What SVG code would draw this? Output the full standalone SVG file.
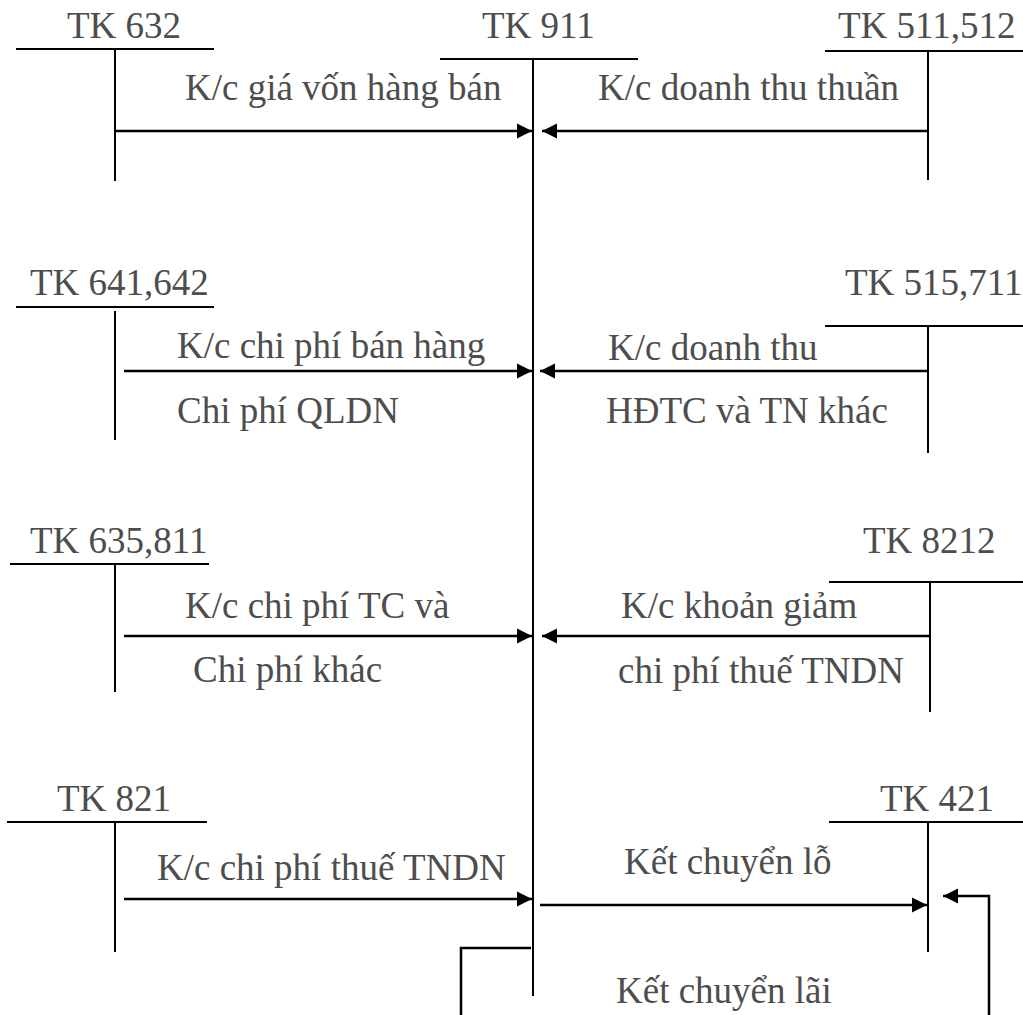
<svg xmlns="http://www.w3.org/2000/svg" width="1023" height="1015" viewBox="0 0 1023 1015">
  <style>
    .lbl { font-family: "Liberation Serif", "Times New Roman", serif; font-size: 37px; fill: #4d4d4d; }
    .acc line { stroke: #000; stroke-width: 2; }
    .flow { stroke: #000; stroke-width: 2.5; fill: none; }
  </style>
  <defs>
    <marker id="head" markerUnits="userSpaceOnUse" markerWidth="16" markerHeight="16" viewBox="0 0 16 16" refX="15" refY="8" orient="auto">
      <path d="M0,0.5 L15,8 L0,15.5 Z" fill="#000"/>
    </marker>
  </defs>
  <rect width="1023" height="1015" fill="#fff"/>

  <!-- T-accounts -->
  <g id="tk632" class="acc">
    <text class="lbl" x="67" y="38">TK 632</text>
    <line x1="16" y1="49" x2="214" y2="49"/>
    <line x1="115" y1="50" x2="115" y2="181"/>
  </g>
  <g id="tk911" class="acc">
    <text class="lbl" x="482" y="38">TK 911</text>
    <line x1="440" y1="59" x2="638" y2="59"/>
    <line x1="533" y1="60" x2="533" y2="996"/>
  </g>
  <g id="tk511" class="acc">
    <text class="lbl" x="838" y="38">TK 511,512</text>
    <line x1="825" y1="51" x2="1023" y2="51"/>
    <line x1="928" y1="52" x2="928" y2="180"/>
  </g>
  <g id="tk641" class="acc">
    <text class="lbl" x="30" y="295">TK 641,642</text>
    <line x1="16" y1="307" x2="214" y2="307"/>
    <line x1="115" y1="311" x2="115" y2="440"/>
  </g>
  <g id="tk515" class="acc">
    <text class="lbl" x="845" y="295">TK 515,711</text>
    <line x1="825" y1="326" x2="1023" y2="326"/>
    <line x1="928" y1="327" x2="928" y2="453"/>
  </g>
  <g id="tk635" class="acc">
    <text class="lbl" x="30" y="553">TK 635,811</text>
    <line x1="10" y1="564" x2="209" y2="564"/>
    <line x1="115" y1="565" x2="115" y2="692"/>
  </g>
  <g id="tk8212" class="acc">
    <text class="lbl" x="863" y="553">TK 8212</text>
    <line x1="829" y1="582" x2="1023" y2="582"/>
    <line x1="930" y1="583" x2="930" y2="712"/>
  </g>
  <g id="tk821" class="acc">
    <text class="lbl" x="57" y="811">TK 821</text>
    <line x1="7" y1="822" x2="207" y2="822"/>
    <line x1="115" y1="823" x2="115" y2="952"/>
  </g>
  <g id="tk421" class="acc">
    <text class="lbl" x="880" y="811">TK 421</text>
    <line x1="829" y1="822" x2="1023" y2="822"/>
    <line x1="928" y1="823" x2="928" y2="952"/>
  </g>

  <!-- Transfers into and out of TK 911 -->
  <g id="connectors">
    <line class="flow" x1="115" y1="131" x2="532" y2="131" marker-end="url(#head)"/>
    <line class="flow" x1="928" y1="131" x2="542" y2="131" marker-end="url(#head)"/>
    <line class="flow" x1="124" y1="371" x2="532" y2="371" marker-end="url(#head)"/>
    <line class="flow" x1="928" y1="371" x2="540" y2="371" marker-end="url(#head)"/>
    <line class="flow" x1="124" y1="636" x2="532" y2="636" marker-end="url(#head)"/>
    <line class="flow" x1="930" y1="636" x2="542" y2="636" marker-end="url(#head)"/>
    <line class="flow" x1="124" y1="899" x2="532" y2="899" marker-end="url(#head)"/>
    <line class="flow" x1="540" y1="905" x2="927" y2="905" marker-end="url(#head)"/>
    <path class="flow" d="M531,948 H461 V1030 H989 V896 H943" marker-end="url(#head)" stroke-width="2"/>

    <text class="lbl" x="185" y="100">K/c giá vốn hàng bán</text>
    <text class="lbl" x="598" y="100">K/c doanh thu thuần</text>
    <text class="lbl" x="177" y="358">K/c chi phí bán hàng</text>
    <text class="lbl" x="177" y="423">Chi phí QLDN</text>
    <text class="lbl" x="608" y="360">K/c doanh thu</text>
    <text class="lbl" x="606" y="423">HĐTC và TN khác</text>
    <text class="lbl" x="185" y="618">K/c chi phí TC và</text>
    <text class="lbl" x="193" y="682">Chi phí khác</text>
    <text class="lbl" x="621" y="618">K/c khoản giảm</text>
    <text class="lbl" x="618" y="683">chi phí thuế TNDN</text>
    <text class="lbl" x="157" y="880">K/c chi phí thuế TNDN</text>
    <text class="lbl" x="624" y="874">Kết chuyển lỗ</text>
    <text class="lbl" x="616" y="1003">Kết chuyển lãi</text>
  </g>
</svg>
